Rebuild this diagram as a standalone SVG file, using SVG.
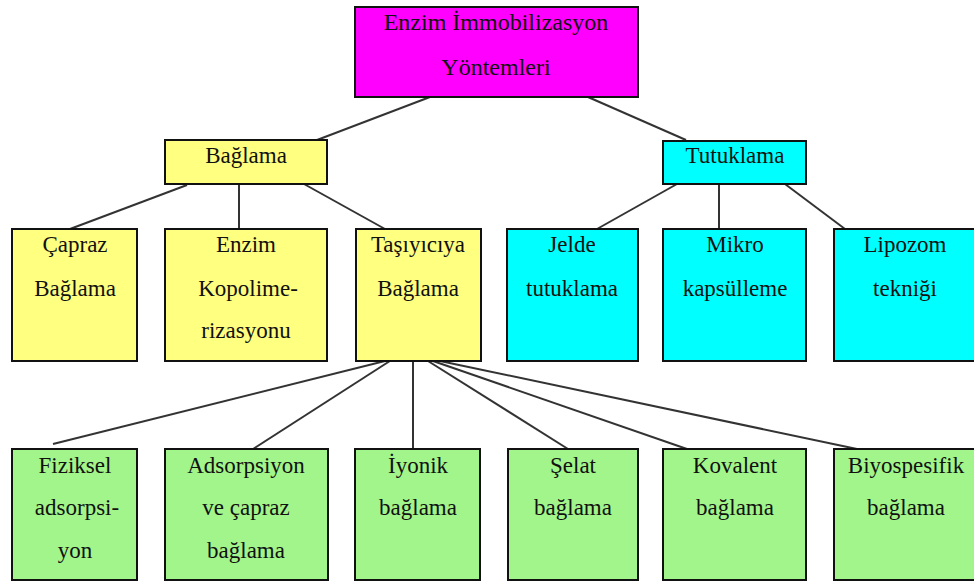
<svg xmlns="http://www.w3.org/2000/svg" width="974" height="583" viewBox="0 0 974 583">
<style>
  .box { stroke: #111; stroke-width: 2; }
  .mag { fill: #FF00FF; }
  .yel { fill: #FFFF80; }
  .cya { fill: #00FFFF; }
  .grn { fill: #A2F58A; }
  text { font-family: "Liberation Serif", "Times New Roman", serif; font-size: 23px; fill: #111; text-anchor: middle; }
  .title { font-size: 24px; }
  #connectors line { stroke: #333; stroke-width: 2; }
</style>
<rect width="974" height="583" fill="#fff"/>
<g id="connectors">
  <line x1="430" y1="97" x2="317" y2="140"/>
  <line x1="588" y1="97" x2="686" y2="140"/>
  <line x1="187" y1="185" x2="70" y2="229"/>
  <line x1="239" y1="184" x2="239" y2="229"/>
  <line x1="304" y1="184" x2="385" y2="229"/>
  <line x1="677" y1="184" x2="597" y2="229"/>
  <line x1="719" y1="184" x2="719" y2="229"/>
  <line x1="785" y1="184" x2="845" y2="229"/>
  <line x1="393" y1="359" x2="53" y2="444"/>
  <line x1="393" y1="359" x2="253" y2="449"/>
  <line x1="413" y1="361" x2="413" y2="449"/>
  <line x1="428" y1="361" x2="568" y2="449"/>
  <line x1="433" y1="361" x2="687" y2="449"/>
  <line x1="440" y1="361" x2="857" y2="449"/>
</g>
<g id="root">
  <rect class="box mag" x="355" y="7" width="283" height="90"/>
  <text class="title" x="496" y="30">Enzim İmmobilizasyon</text>
  <text class="title" x="496" y="75">Yöntemleri</text>
</g>
<g id="baglama">
  <rect class="box yel" x="165" y="140" width="162" height="44"/>
  <text x="246" y="163">Bağlama</text>
</g>
<g id="tutuklama">
  <rect class="box cya" x="663" y="141" width="143" height="43"/>
  <text x="735" y="163">Tutuklama</text>
</g>
<g id="capraz">
  <rect class="box yel" x="12" y="229" width="125" height="132"/>
  <text x="75" y="252">Çapraz</text>
  <text x="75" y="296">Bağlama</text>
</g>
<g id="kopolimerizasyon">
  <rect class="box yel" x="165" y="229" width="162" height="132"/>
  <text x="246" y="252">Enzim</text>
  <text x="248" y="296">Kopolime-</text>
  <text x="246" y="338">rizasyonu</text>
</g>
<g id="tasiyiciya">
  <rect class="box yel" x="356" y="229" width="125" height="132"/>
  <text x="418" y="252">Taşıyıcıya</text>
  <text x="418" y="296">Bağlama</text>
</g>
<g id="jelde">
  <rect class="box cya" x="507" y="229" width="131" height="132"/>
  <text x="572" y="252">Jelde</text>
  <text x="572" y="296">tutuklama</text>
</g>
<g id="mikro">
  <rect class="box cya" x="663" y="229" width="143" height="132"/>
  <text x="735" y="252">Mikro</text>
  <text x="735" y="296">kapsülleme</text>
</g>
<g id="lipozom">
  <rect class="box cya" x="834" y="229" width="142" height="132"/>
  <text x="905" y="252">Lipozom</text>
  <text x="905" y="296">tekniği</text>
</g>
<g id="fiziksel">
  <rect class="box grn" x="12" y="449" width="125" height="131"/>
  <text x="75" y="473">Fiziksel</text>
  <text x="77" y="515">adsorpsi-</text>
  <text x="75" y="558">yon</text>
</g>
<g id="adsorpsiyon">
  <rect class="box grn" x="165" y="449" width="163" height="131"/>
  <text x="246" y="473">Adsorpsiyon</text>
  <text x="246" y="515">ve çapraz</text>
  <text x="246" y="558">bağlama</text>
</g>
<g id="iyonik">
  <rect class="box grn" x="355" y="449" width="125" height="131"/>
  <text x="418" y="473">İyonik</text>
  <text x="418" y="515">bağlama</text>
</g>
<g id="selat">
  <rect class="box grn" x="508" y="449" width="130" height="131"/>
  <text x="573" y="473">Şelat</text>
  <text x="573" y="515">bağlama</text>
</g>
<g id="kovalent">
  <rect class="box grn" x="663" y="449" width="143" height="131"/>
  <text x="735" y="473">Kovalent</text>
  <text x="735" y="515">bağlama</text>
</g>
<g id="biyospesifik">
  <rect class="box grn" x="834" y="449" width="142" height="131"/>
  <text x="906" y="473">Biyospesifik</text>
  <text x="906" y="515">bağlama</text>
</g>
</svg>
